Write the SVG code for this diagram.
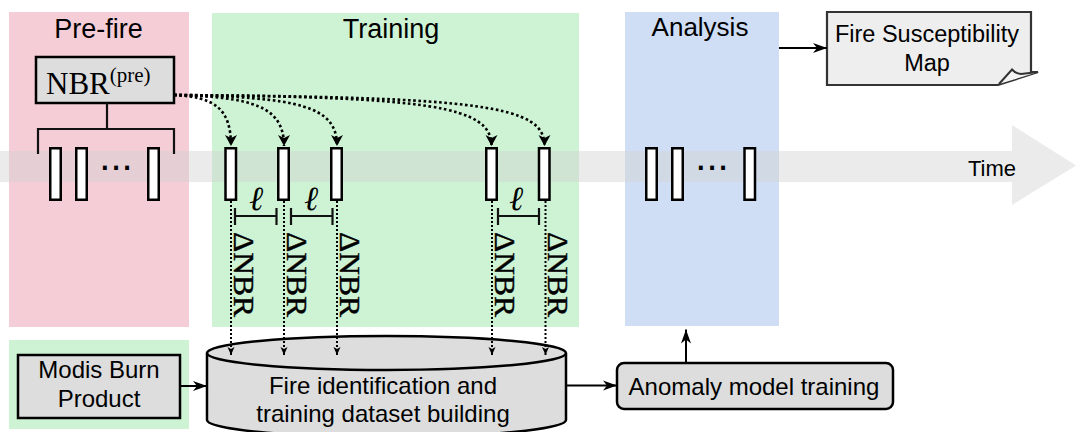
<svg xmlns="http://www.w3.org/2000/svg" width="1076" height="432" viewBox="0 0 1076 432">
<defs>
<style>
.sans{font-family:"Liberation Sans",Arial,sans-serif;fill:#000}
.serif{font-family:"Liberation Serif","DejaVu Serif",serif;fill:#000}
.frame{fill:#fff;stroke:#000;stroke-width:2.5}
.box{fill:#dddddd;stroke:#000;stroke-width:2.5}
.curve{fill:none;stroke:#000;stroke-width:2.6;stroke-dasharray:2.6 2.6}
.vdot{fill:none;stroke:#000;stroke-width:2;stroke-dasharray:2 2}
.solid{fill:none;stroke:#000;stroke-width:2}
.line{fill:none;stroke:#111;stroke-width:2.2}
.tsz{font-size:24px}
.delta{font-size:29px;stroke:#000;stroke-width:0.4}
</style>
<marker id="bigHead" markerUnits="userSpaceOnUse" markerWidth="12" markerHeight="12" refX="11" refY="6" orient="auto" overflow="visible">
<path d="M0,0 L11,6 L0,12 L3,6 Z" fill="#000"/>
</marker>
<marker id="smallHead" markerUnits="userSpaceOnUse" markerWidth="9" markerHeight="8" refX="8" refY="3.5" orient="auto" overflow="visible">
<path d="M0,0 L8,3.5 L0,7 L2,3.5 Z" fill="#000"/>
</marker>
<marker id="solidHead" markerUnits="userSpaceOnUse" markerWidth="14" markerHeight="10" refX="14" refY="5" orient="auto" overflow="visible">
<path d="M0,0 L14,5 L0,10 L4,5 Z" fill="#000"/>
</marker>
</defs>

<g id="panels">
<rect id="prefire-panel" x="9" y="12" width="180" height="315" fill="#f5cdd6"/>
<rect id="training-panel" x="212" y="13" width="367" height="314" fill="#cef3d4"/>
<rect id="analysis-panel" x="625" y="12" width="154" height="314" fill="#cfdef5"/>
<rect id="modis-panel" x="9" y="340" width="180" height="89" fill="#cef3d4"/>
</g>

<g id="time-axis">
<path d="M0,151 H1012 V125 L1076,165.5 L1012,205 V182 H0 Z" fill="#d2d2d2" fill-opacity="0.45"/>
<text class="sans" x="992" y="176" font-size="22" text-anchor="middle">Time</text>
</g>

<g id="titles">
<text class="sans" x="98.5" y="38" font-size="27" text-anchor="middle">Pre-fire</text>
<text class="sans" x="391" y="38" font-size="27" text-anchor="middle">Training</text>
<text class="sans" x="700" y="36" font-size="26" text-anchor="middle">Analysis</text>
</g>

<g id="nbr-pre">
<rect class="box" x="36" y="57" width="138" height="46"/>
<text class="serif" x="46" y="94" font-size="31">NBR<tspan font-size="21" dy="-12">(pre)</tspan></text>
</g>

<g id="prefire-frames">
<rect class="frame" x="50.25" y="148.25" width="10.5" height="51.5"/>
<rect class="frame" x="76.25" y="148.25" width="10.5" height="51.5"/>
<rect class="frame" x="148.25" y="148.25" width="10.5" height="51.5"/>
<text class="sans" x="116" y="170" font-size="40" text-anchor="middle">...</text>
</g>

<g id="training-frames">
<rect class="frame" x="225.5" y="148.25" width="10.5" height="51.5"/>
<rect class="frame" x="278.25" y="148.25" width="10.5" height="51.5"/>
<rect class="frame" x="331.25" y="148.25" width="10.5" height="51.5"/>
<rect class="frame" x="486.25" y="148.25" width="10.5" height="51.5"/>
<rect class="frame" x="539" y="148.25" width="10.5" height="51.5"/>
</g>

<g id="analysis-frames">
<rect class="frame" x="646.25" y="148.25" width="10.5" height="51.5"/>
<rect class="frame" x="672.25" y="148.25" width="10.5" height="51.5"/>
<rect class="frame" x="744.5" y="148.25" width="10.5" height="51.5"/>
<text class="sans" x="712" y="170" font-size="40" text-anchor="middle">...</text>
</g>

<g id="lag-labels">
<text class="serif" x="256" y="210" font-size="34" font-style="italic" text-anchor="middle">ℓ</text>
<text class="serif" x="311" y="210" font-size="34" font-style="italic" text-anchor="middle">ℓ</text>
<text class="serif" x="516" y="210" font-size="34" font-style="italic" text-anchor="middle">ℓ</text>
<path class="line" d="M235,216 H276.5 M235,208 V225 M276.5,208 V225"/>
<path class="line" d="M291,216 H332.5 M291,208 V225 M332.5,208 V225"/>
<path class="line" d="M498,216 H539 M498,208 V225 M539,208 V225"/>
</g>

<g id="delta-labels">
<text class="serif delta" textLength="85" lengthAdjust="spacingAndGlyphs" transform="translate(234,232) rotate(90)">ΔNBR</text>
<text class="serif delta" textLength="85" lengthAdjust="spacingAndGlyphs" transform="translate(287,232) rotate(90)">ΔNBR</text>
<text class="serif delta" textLength="85" lengthAdjust="spacingAndGlyphs" transform="translate(340,232) rotate(90)">ΔNBR</text>
<text class="serif delta" textLength="85" lengthAdjust="spacingAndGlyphs" transform="translate(495,232) rotate(90)">ΔNBR</text>
<text class="serif delta" textLength="85" lengthAdjust="spacingAndGlyphs" transform="translate(548,232) rotate(90)">ΔNBR</text>
</g>

<g id="modis">
<rect class="box" x="18" y="355" width="162" height="63" stroke-width="3"/>
<text class="sans tsz" x="99" y="378" text-anchor="middle">Modis Burn</text>
<text class="sans tsz" x="99" y="406.5" text-anchor="middle">Product</text>
</g>

<g id="fire-dataset">
<path class="box" d="M207,353 A179.5,17 0 0 1 566,353 V420 A179.5,17 0 0 1 207,420 Z"/>
<path class="box" fill="none" d="M207,353 A179.5,17 0 0 0 566,353"/>
<text class="sans tsz" x="383" y="394" text-anchor="middle">Fire identification and</text>
<text class="sans tsz" x="383" y="421.5" text-anchor="middle">training dataset building</text>
</g>

<g id="anomaly">
<rect class="box" x="617" y="363" width="276" height="46" rx="7"/>
<text class="sans tsz" x="754" y="395" text-anchor="middle">Anomaly model training</text>
</g>

<g id="fire-map">
<path d="M827,12 H1031 V72 H1038 L998,85 H827 Z" fill="#eeeeee" stroke="#333" stroke-width="2.2" stroke-linejoin="miter"/>
<path d="M999,84 L1012,69.5 Q1016,74 1021,74 L1038,72" fill="#f4f4f4" stroke="#333" stroke-width="2"/>
<text class="sans" x="927" y="42" font-size="23.5" text-anchor="middle">Fire Susceptibility</text>
<text class="sans" x="927" y="70.5" font-size="23.5" text-anchor="middle">Map</text>
</g>

<g id="connectors">
<path class="line" d="M107,103 V129 M38,154 V129 H174 V154"/>
<path class="curve" d="M174,95 C214,97 231,108 231,146" marker-end="url(#bigHead)"/>
<path class="curve" d="M174,95 C252,97 284,106 284,146" marker-end="url(#bigHead)"/>
<path class="curve" d="M174,95 C300,97 337,106 337,146" marker-end="url(#bigHead)"/>
<path class="curve" d="M174,95 C430,97 491.5,106 491.5,146" marker-end="url(#bigHead)"/>
<path class="curve" d="M174,95 C485,97 544.5,106 544.5,146" marker-end="url(#bigHead)"/>
<path class="vdot" d="M231,201 V355" marker-end="url(#smallHead)"/>
<path class="vdot" d="M284,201 V355" marker-end="url(#smallHead)"/>
<path class="vdot" d="M337,201 V355" marker-end="url(#smallHead)"/>
<path class="vdot" d="M492,201 V355" marker-end="url(#smallHead)"/>
<path class="vdot" d="M545.5,201 V355" marker-end="url(#smallHead)"/>
<path class="solid" d="M180,386 H207" marker-end="url(#solidHead)"/>
<path class="solid" d="M566,385.5 H617" marker-end="url(#solidHead)"/>
<path class="solid" d="M686,363 V329.5" marker-end="url(#solidHead)"/>
<path class="solid" d="M779,48 H827" marker-end="url(#solidHead)"/>
</g>
</svg>
